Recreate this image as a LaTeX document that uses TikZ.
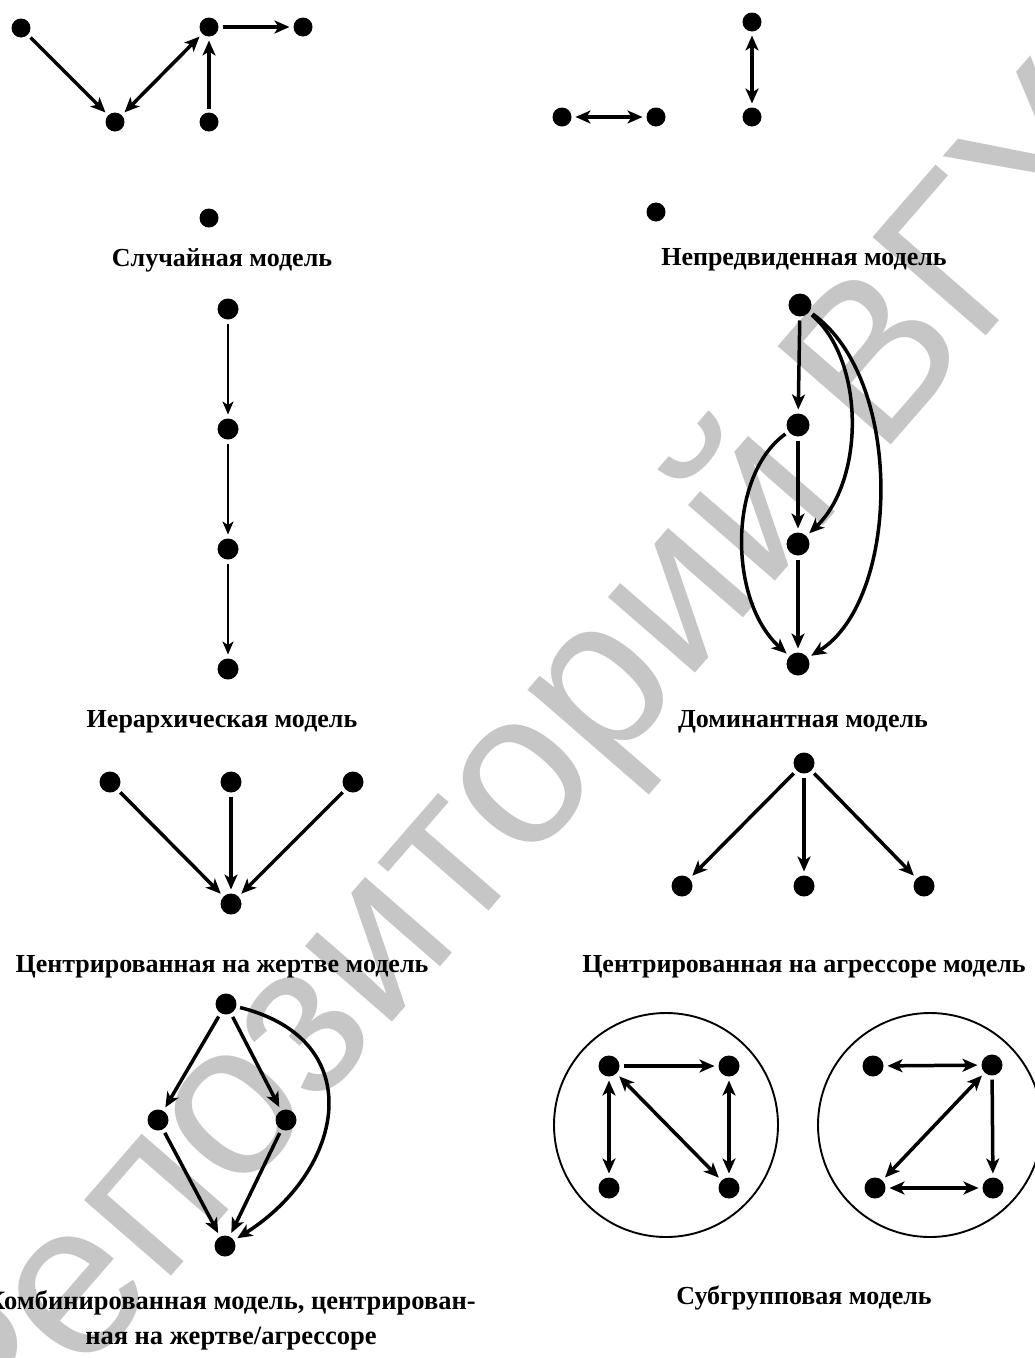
\documentclass[tikz,border=0pt]{standalone}
\usepackage{fontspec}
\setmainfont{Liberation Serif}
\newfontfamily\wmfont{Liberation Sans}
\usetikzlibrary{arrows.meta}
\definecolor{wm}{RGB}{198,198,198}
\begin{document}
\begin{tikzpicture}[x=1pt,y=-1pt,
  dot/.style={circle,fill=black,inner sep=0pt,minimum size=21pt,outer sep=4pt},
  sdot/.style={dot,minimum size=19pt},
  bdot/.style={dot,minimum size=23pt},
  tipA/.tip={Stealth[length=15pt,width=13pt,inset=4pt]},
  arr/.style={line width=3.5pt,-tipA},
  darr/.style={line width=3.5pt,tipA-tipA},
  thinarr/.style={line width=2.6pt,-{Stealth[length=13pt,width=11pt,inset=3.5pt]}},
  ringc/.style={circle,draw=black,line width=1.9pt,inner sep=0pt,minimum size=224pt},
  captxt/.style={font=\fontsize{26}{35}\selectfont\bfseries,align=center,inner sep=0pt},
  wmtxt/.style={rotate=49,text=wm,font=\wmfont\fontsize{218}{218}\selectfont,inner sep=0pt}]
\useasboundingbox (0,0) rectangle (1034,1358);
\fill[white] (0,0) rectangle (1034,1358);
% watermark
\node[wmtxt,anchor=base west] (wm2) at (879,459) {ВГУ};
\node[wmtxt,anchor=base east] (wm1) at (845,501) {Репозиторий};

% Panel 1
\node[sdot] (a1) at (21,28) {};
\node[sdot] (a2) at (115,122) {};
\node[sdot] (a3) at (209,27) {};
\node[sdot] (a4) at (303,27) {};
\node[sdot] (a5) at (209,122) {};
\node[sdot] (a6) at (209,218) {};
\draw[arr] (a1) -- (a2);
\draw[darr] (a2) -- (a3);
\draw[arr] (a5) -- (a3);
\draw[arr] (a3) -- (a4);
\node[captxt] (t1) at (222,260) {Случайная модель};

% Panel 2
\node[sdot] (b1) at (562,117) {};
\node[sdot] (b2) at (656,117) {};
\node[sdot] (b3) at (752,22) {};
\node[sdot] (b4) at (752,117) {};
\node[sdot] (b5) at (656,212) {};
\draw[darr] (b1) -- (b2);
\draw[darr] (b3) -- (b4);
\node[captxt] (t2) at (804,260) {Непредвиденная модель};

% Panel 3
\node[dot] (c1) at (228,309) {};
\node[dot] (c2) at (228,429) {};
\node[dot] (c3) at (228,549) {};
\node[dot] (c4) at (228,669) {};
\draw[thinarr] (c1) -- (c2);
\draw[thinarr] (c2) -- (c3);
\draw[thinarr] (c3) -- (c4);
\node[captxt] (t3) at (222,722) {Иерархическая модель};

% Panel 4
\node[bdot] (d1) at (800,305) {};
\node[bdot] (d2) at (798,425) {};
\node[bdot] (d3) at (798,544) {};
\node[bdot] (d4) at (798,664) {};
\draw[arr] (d1) -- (d2);
\draw[arr] (d2) -- (d3);
\draw[arr] (d3) -- (d4);
\draw[arr] (d1) .. controls (865,360) and (865,480) .. (d3);
\draw[arr] (d1) .. controls (905,380) and (900,600) .. (d4);
\draw[arr] (d2) .. controls (728,475) and (728,600) .. (d4);
\node[captxt] (t4) at (803,722) {Доминантная модель};

% Panel 5
\node[dot] (e1) at (110,782) {};
\node[dot] (e2) at (231,782) {};
\node[dot] (e3) at (353,782) {};
\node[dot] (e4) at (231,904) {};
\draw[arr] (e1) -- (e4);
\draw[arr] (e2) -- (e4);
\draw[arr] (e3) -- (e4);
\node[captxt] (t5) at (222,967) {Центрированная на жертве модель};

% Panel 6
\node[dot] (f1) at (804,763) {};
\node[dot] (f2) at (682,886) {};
\node[dot] (f3) at (804,886) {};
\node[dot] (f4) at (924,886) {};
\draw[arr] (f1) -- (f2);
\draw[arr] (f1) -- (f3);
\draw[arr] (f1) -- (f4);
\node[captxt] (t6) at (804,967) {Центрированная на агрессоре модель};

% Panel 7
\node[dot] (g1) at (226,1004) {};
\node[dot] (g2) at (158,1120) {};
\node[dot] (g3) at (286,1120) {};
\node[dot] (g4) at (225,1246) {};
\draw[arr] (g1) -- (g2);
\draw[arr] (g1) -- (g3);
\draw[arr] (g2) -- (g4);
\draw[arr] (g3) -- (g4);
\draw[arr] (g1) .. controls (370,1040) and (345,1170) .. (g4);
\node[captxt,font=\fontsize{26.5}{35}\selectfont\bfseries] (t7) at (231,1320) {Комбинированная модель, центрирован-\\ная на жертве/агрессоре};

% Panel 8
\node[ringc] (r1) at (666,1125) {};
\node[ringc] (r2) at (930,1125) {};
\node[dot] (h1) at (609,1066) {};
\node[dot] (h2) at (729,1066) {};
\node[dot] (h3) at (609,1188) {};
\node[dot] (h4) at (729,1188) {};
\draw[arr] (h1) -- (h2);
\draw[darr] (h1) -- (h3);
\draw[darr] (h1) -- (h4);
\draw[darr] (h2) -- (h4);
\node[dot] (i1) at (873,1066) {};
\node[dot] (i2) at (992,1065) {};
\node[dot] (i3) at (875,1188) {};
\node[dot] (i4) at (993,1188) {};
\draw[darr] (i1) -- (i2);
\draw[darr] (i2) -- (i3);
\draw[arr] (i2) -- (i4);
\draw[darr] (i3) -- (i4);
\node[captxt] (t8) at (804,1298) {Субгрупповая модель};
\end{tikzpicture}
\end{document}
